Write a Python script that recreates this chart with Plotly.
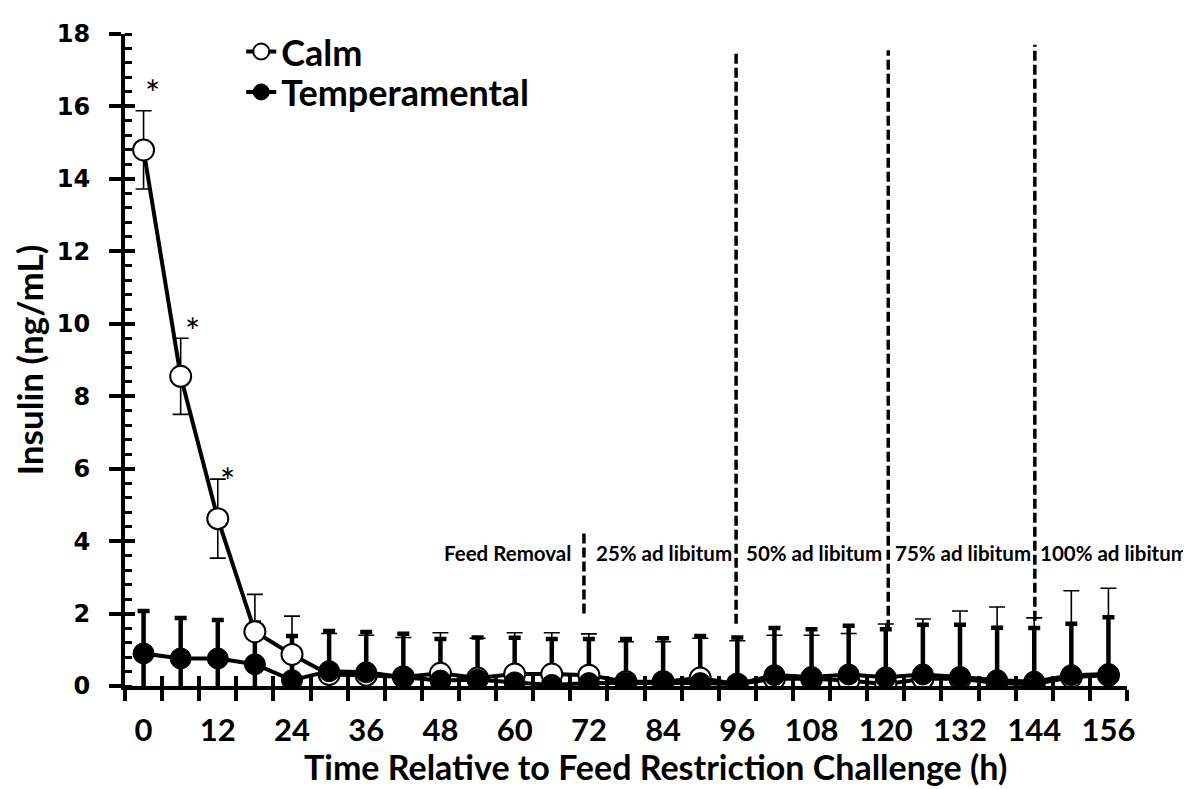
import plotly.graph_objects as go

# ---------------- data ----------------
hours = list(range(0, 157, 6))
calm = [14.8, 8.55, 4.62, 1.50, 0.87, 0.32, 0.30, 0.25, 0.35, 0.22, 0.33, 0.33, 0.30, 0.12,
        0.12, 0.22, 0.05, 0.20, 0.20, 0.15, 0.05, 0.20, 0.20, 0.08, 0.05, 0.25, 0.30]
calm_se = [1.08, 1.05, 1.09, 1.03, 1.06, 1.13, 1.10, 1.09, 1.12, 1.10, 1.14, 1.14, 1.14, 1.10,
           1.10, 1.10, 1.20, 1.20, 1.20, 1.30, 1.66, 1.65, 1.87, 2.10, 1.83, 2.38, 2.40]
temp = [0.90, 0.76, 0.76, 0.60, 0.16, 0.41, 0.38, 0.24, 0.15, 0.17, 0.10, 0.03, 0.08, 0.08,
        0.10, 0.08, 0.05, 0.30, 0.25, 0.32, 0.24, 0.32, 0.25, 0.16, 0.12, 0.30, 0.33]
temp_se = [1.17, 1.12, 1.06, 1.15, 1.22, 1.11, 1.11, 1.20, 1.15, 1.17, 1.23, 1.27, 1.22, 1.22,
           1.22, 1.30, 1.29, 1.30, 1.32, 1.34, 1.33, 1.37, 1.44, 1.45, 1.48, 1.42, 1.57]

x_ticks = list(range(0, 157, 12))
y_ticks = list(range(0, 19, 2))

# phase boundaries (dashed lines) and labels
phase_x = [71.2, 95.8, 120.4, 144.1]
phase_top = [4.25, 17.5, 17.55, 17.7]
phase_bottom = [2.0, 1.72, 1.55, 1.8]
phase_labels = ["25% ad libitum", "50% ad libitum", "75% ad libitum", "100% ad libitum"]
phase_label_x = [72.8, 97.1, 121.2, 144.6]
first_label = "Feed Removal"
first_label_x = 69.4
label_y = 3.67

# significance markers
star_x = [1.5, 7.9, 13.6]
star_y = [16.38, 9.79, 5.65]

FONT = "Lato"

fig = go.Figure()

# Temperamental error bars (drawn underneath the Calm markers)
fig.add_trace(go.Scatter(
    x=hours, y=temp, mode="markers", showlegend=False, hoverinfo="skip",
    marker=dict(size=1, opacity=0),
    error_y=dict(type="data", array=temp_se, visible=True, color="black",
                 thickness=4.5, width=6),
))

# Calm
fig.add_trace(go.Scatter(
    x=hours, y=calm, mode="lines+markers", name="Calm", legend="legend",
    line=dict(color="black", width=4),
    marker=dict(symbol="circle", size=21, color="white", line=dict(color="black", width=2)),
    error_y=dict(type="data", array=calm_se, visible=True, color="black",
                 thickness=1.6, width=8),
))

# Temperamental
fig.add_trace(go.Scatter(
    x=hours, y=temp, mode="lines+markers", name="Temperamental", legend="legend2",
    line=dict(color="black", width=4),
    marker=dict(symbol="circle", size=21, color="black", line=dict(color="black", width=1)),
))

# dummy trace so that the overlay axes are drawn
fig.add_trace(go.Scatter(x=[None], y=[None], xaxis="x2", yaxis="y2",
                         showlegend=False, hoverinfo="skip"))

# dashed phase lines
for px, top, bot in zip(phase_x, phase_top, phase_bottom):
    fig.add_shape(type="line", x0=px, x1=px, y0=bot, y1=top, xref="x", yref="y",
                  line=dict(color="black", width=3.5, dash="10px,4px"))

# phase labels
lab_font = dict(family=FONT, size=20.5, color="black", weight="bold")
fig.add_annotation(x=first_label_x, y=label_y, xref="x", yref="y", text=first_label,
                   showarrow=False, xanchor="right", font=lab_font)
for lx, lab in zip(phase_label_x, phase_labels):
    fig.add_annotation(x=lx, y=label_y, xref="x", yref="y", text=lab,
                       showarrow=False, xanchor="left", font=lab_font)

for sx, sy in zip(star_x, star_y):
    fig.add_annotation(x=sx, y=sy, xref="x", yref="y", text="*", showarrow=False,
                       font=dict(family=FONT, size=36, color="black"))

# x-axis title
fig.add_annotation(x=0.529, y=-0.124, xref="paper", yref="paper", showarrow=False,
                   text="Time Relative to Feed Restriction Challenge (h)",
                   xanchor="center", yanchor="middle",
                   font=dict(family=FONT, size=34, color="black", weight="bold"))

leg_font = dict(family=FONT, size=36, color="black", weight="bold")
fig.update_layout(
    width=1183, height=781,
    margin=dict(l=117, r=64, t=16, b=103),
    paper_bgcolor="white", plot_bgcolor="white",
    showlegend=True,
    legend=dict(x=0.116, y=0.973, xanchor="left", yanchor="middle",
                font=leg_font, bgcolor="rgba(0,0,0,0)", itemwidth=30),
    legend2=dict(x=0.116, y=0.911, xanchor="left", yanchor="middle",
                 font=leg_font, bgcolor="rgba(0,0,0,0)", itemwidth=30),
    xaxis=dict(
        range=[-3, 159], showgrid=False, zeroline=False,
        showline=True, linecolor="black", linewidth=4,
        tickmode="array", tickvals=x_ticks, ticktext=[str(v) for v in x_ticks],
        ticks="", ticklen=0, ticklabelstandoff=14,
        tickfont=dict(family=FONT, size=31, color="black", weight="bold"),
        minor=dict(ticks="outside", tick0=-3, dtick=6, ticklen=11, tickwidth=4,
                   tickcolor="black", showgrid=False),
        fixedrange=True,
    ),
    yaxis=dict(
        range=[0, 18], showgrid=False, zeroline=False,
        showline=True, linecolor="black", linewidth=4,
        tickmode="array", tickvals=y_ticks,
        ticks="outside", ticklen=12, tickwidth=4, tickcolor="black",
        ticklabelstandoff=14,
        tickfont=dict(family="DejaVu Sans", size=24, color="black", weight="bold"),
        minor=dict(ticks="inside", tick0=0, dtick=0.4, ticklen=7, tickwidth=3,
                   tickcolor="black", showgrid=False),
        title=dict(text="Insulin (ng/mL)",
                   font=dict(family=FONT, size=35, color="black", weight="bold"),
                   standoff=10),
        fixedrange=True,
    ),
    xaxis2=dict(
        overlaying="x", anchor="y2", side="bottom", range=[-3, 159],
        showgrid=False, zeroline=False, showline=False, showticklabels=False,
        tickmode="linear", tick0=-3, dtick=6, ticks="inside", ticklen=10,
        tickwidth=4, tickcolor="black", fixedrange=True,
    ),
    yaxis2=dict(
        overlaying="y", anchor="x2", side="left", range=[0, 18],
        showgrid=False, zeroline=False, showline=False, showticklabels=False,
        tickmode="linear", tick0=0, dtick=2, ticks="inside", ticklen=10,
        tickwidth=4, tickcolor="black", fixedrange=True,
    ),
)

fig.write_html("out.html")
